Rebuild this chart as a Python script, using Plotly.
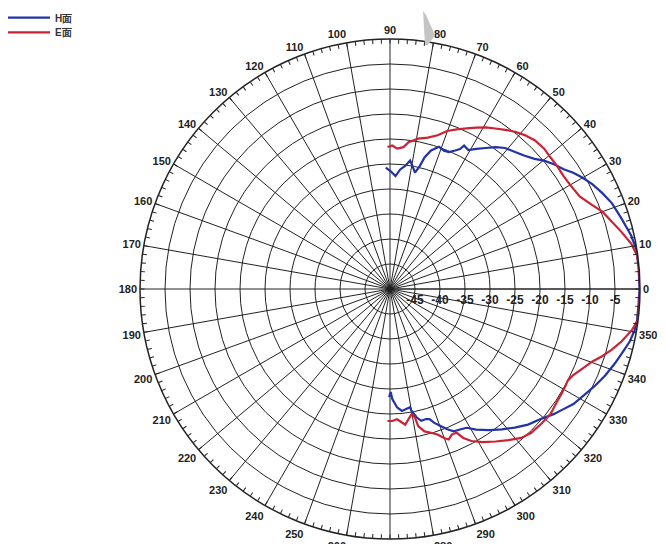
import plotly.graph_objects as go

# ---------------- data (angle in degrees, level in dB) ----------------
h_theta = [92.0, 89.8, 87.2, 85.1, 83.0, 81.1, 79.2, 77.9, 76.4, 75.3, 73.5, 71.0, 68.7, 66.7,
           64.8, 63.4, 62.7, 60.6, 58.4, 55.8, 53.3, 50.8, 47.6, 44.7, 42.0, 39.8, 37.3, 34.6,
           32.4, 30.0, 27.3, 24.3, 21.1, 16.9, 12.5, 9.1, 5.0, 0.0, -4.0,
           -7.3, -9.7, -12.3, -14.9, -18.2, -21.8, -25.1, -28.1, -32.1, -34.7, -37.4, -40.8,
           -44.5, -48.0, -51.4, -54.9, -58.5, -61.1, -63.5, -65.9, -67.8, -69.7, -71.7, -73.1,
           -74.5, -76.7, -78.3, -80.0, -80.4, -82.1, -84.4, -86.6, -88.8, -89.6, -90.5]
h_r = [-25.7, -26.4, -27.4, -26.0, -25.2, -24.0, -25.3, -26.2, -24.7, -22.8, -21.1, -19.9, -20.3, -20.2,
       -19.4, -18.7, -17.7, -18.1, -17.1, -15.9, -14.6, -13.6, -12.9, -12.1, -11.1, -9.9, -8.8, -7.8,
       -6.6, -5.5, -4.4, -3.4, -2.4, -1.6, -0.6, -0.1, -0.1, -0.1, -0.2,
       -0.2, -0.4, -0.9, -1.7, -2.6, -3.6, -4.6, -5.6, -6.7, -7.8, -8.8, -10.2,
       -11.3, -12.7, -14.1, -15.5, -17.0, -18.3, -18.6, -18.8, -19.7, -20.8, -21.8, -22.8,
       -23.0, -22.9, -23.8, -25.3, -26.0, -25.8, -25.5, -26.3, -28.0, -29.4, -28.4]

e_theta = [91.0, 89.1, 87.1, 84.6, 82.8, 79.4, 76.0, 72.8, 70.1, 67.3, 64.5, 61.9, 59.3, 56.7,
           54.1, 51.5, 48.8, 45.8, 42.3, 39.4, 36.4, 33.1, 30.1, 26.0, 22.5, 20.0, 16.8, 13.8,
           10.6, 7.6, 4.0, 0.0, -4.0,
           -7.3, -9.8, -12.7, -15.3, -17.6, -19.7, -22.4, -25.2, -27.1, -29.2, -31.4, -34.1,
           -38.0, -41.9, -45.5, -48.6, -51.9, -55.3, -58.8, -61.8, -63.8, -65.1, -66.9, -68.7,
           -70.1, -71.9, -74.1, -76.4, -78.4, -79.0, -80.2, -81.9, -83.6, -84.9, -86.9, -89.0, -91.1]
e_r = [-21.6, -21.3, -21.9, -21.5, -20.4, -19.4, -18.8, -17.8, -16.4, -15.4, -14.4, -13.4, -12.4, -11.6,
       -10.7, -9.8, -9.1, -8.5, -8.3, -8.5, -8.5, -8.6, -8.4, -7.8, -6.2, -4.8, -3.6, -2.3,
       -0.9, -0.1, 0.0, 0.0, 0.0,
       -0.1, -1.0, -2.5, -4.0, -5.5, -7.0, -8.3, -9.5, -10.0, -9.9, -9.8, -9.7,
       -9.3, -9.5, -9.7, -10.3, -11.6, -12.9, -14.2, -15.5, -16.8, -18.3, -18.4, -17.7,
       -18.3, -19.4, -20.1, -20.7, -22.0, -23.8, -24.6, -23.7, -22.7, -23.2, -23.9, -23.6, -23.6]

angle_ticks = list(range(0, 360, 10))
angle_labels = [str(a) for a in angle_ticks]
minor_ticks = list(range(0, 360, 2))
radial_ticks = [-45, -40, -35, -30, -25, -20, -15, -10, -5]
radial_labels = [str(v) for v in radial_ticks]
radial_range = [-50, 0]

# ---------------- figure ----------------
FONT = "Liberation Sans"
fig = go.Figure()
fig.add_trace(go.Scatterpolar(theta=h_theta, r=h_r, mode="lines", name="<b>H面</b>", legend="legend",
                              line=dict(color="#2233aa", width=2.2), cliponaxis=False))
fig.add_trace(go.Scatterpolar(theta=e_theta, r=e_r, mode="lines", name="<b>E面</b>", legend="legend2",
                              line=dict(color="#cc2233", width=2.2), cliponaxis=False))
# invisible trace to activate the overlay subplot carrying the fine ticks
fig.add_trace(go.Scatterpolar(theta=[0], r=[-50], mode="markers", marker=dict(opacity=0),
                              showlegend=False, hoverinfo="skip", subplot="polar2"))

W, H = 665, 544
cx, cy, R = 382, 281, 250
dom_x = [(cx - R) / W, (cx + R) / W]
dom_y = [(H - cy - R) / H, (H - cy + R) / H]

gridc = "#222222"
leg_common = dict(x=-0.0105, xanchor="left", yanchor="top", bgcolor="rgba(0,0,0,0)",
                  font=dict(size=10, family=FONT, color="#333333"), itemwidth=44)
fig.update_layout(
    width=W, height=H,
    margin=dict(l=0, r=0, t=0, b=0, autoexpand=False),
    paper_bgcolor="white",
    font=dict(family=FONT, size=11, color="#222222"),
    showlegend=True,
    legend=dict(y=1.009, **leg_common),
    legend2=dict(y=0.982, **leg_common),
    polar=dict(
        domain=dict(x=dom_x, y=dom_y),
        bgcolor="white",
        radialaxis=dict(range=radial_range, tickvals=radial_ticks, ticktext=radial_labels,
                        angle=0, tickangle=0, side="clockwise", showline=True, linecolor=gridc,
                        linewidth=1, gridcolor=gridc, gridwidth=1, ticks="",
                        tickfont=dict(size=12, family=FONT, color="#222222", weight="bold")),
        angularaxis=dict(tickvals=angle_ticks, ticktext=angle_labels, direction="counterclockwise",
                         rotation=0, showline=True, linecolor=gridc, linewidth=1.5,
                         gridcolor=gridc, gridwidth=1, ticks="",
                         tickfont=dict(size=11, family=FONT, color="#222222", weight="bold")),
    ),
    polar2=dict(
        domain=dict(x=dom_x, y=dom_y),
        bgcolor="rgba(0,0,0,0)",
        radialaxis=dict(range=radial_range, visible=False),
        angularaxis=dict(tickvals=minor_ticks, direction="counterclockwise", rotation=0,
                         showticklabels=False, showgrid=False, showline=False,
                         ticks="inside", ticklen=4, tickwidth=1, tickcolor=gridc),
    ),
    shapes=[dict(type="path", xref="paper", yref="paper",
                 path="M {:.4f},{:.4f} L {:.4f},{:.4f} L {:.4f},{:.4f} L {:.4f},{:.4f} L {:.4f},{:.4f} Z".format(
                     415 / W, 1 - 3 / H, 417 / W, 1 - 37 / H, 420 / W, 1 - 37 / H,
                     427 / W, 1 - 27 / H, 418 / W, 1 - 7 / H),
                 fillcolor="#c4c4c4", line=dict(width=0), layer="above")],
)

fig.write_html("out.html")
